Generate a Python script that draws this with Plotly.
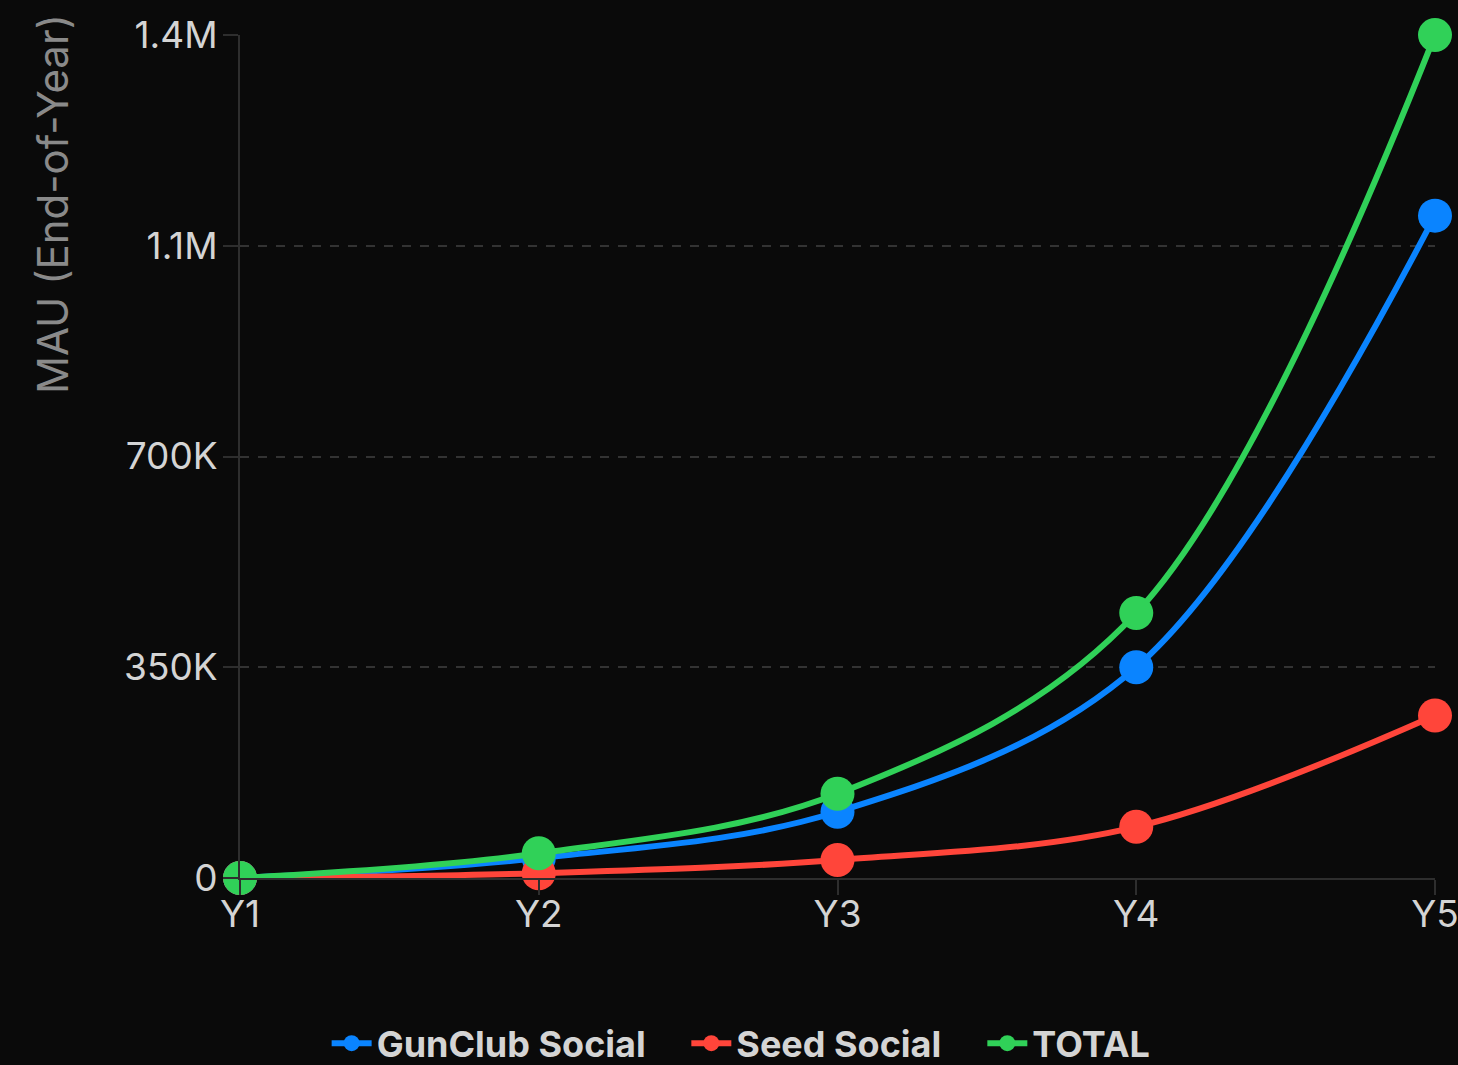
import plotly.graph_objects as go

years = ["Y1", "Y2", "Y3", "Y4", "Y5"]
gunclub = [0, 33000, 110000, 350000, 1100000]
seed = [0, 8000, 30000, 85000, 270000]
total = [0, 41000, 140000, 440000, 1400000]

tick_vals = [0, 350000, 700000, 1050000, 1400000]
tick_text = ["0", "350K", "700K", "1.1M", "1.4M"]

BG = "#0a0a0a"
series = [
    ("GunClub Social", gunclub, "#0a84ff", "legend", 0.0725),
    ("Seed Social", seed, "#ff453a", "legend2", 0.3735),
    ("TOTAL", total, "#30d158", "legend3", 0.6212),
]

fig = go.Figure()
legend_style = dict(orientation="h", xanchor="left", y=-0.196, yanchor="middle",
                    font=dict(size=36, color="#d4d4d4", family="Inter", weight="bold"),
                    bgcolor="rgba(0,0,0,0)", itemwidth=40)
layout_legends = {}
for name, vals, color, leg, lx in series:
    fig.add_trace(go.Scatter(
        x=years, y=vals, name=name, mode="lines+markers",
        line=dict(color=color, width=6, shape="spline", smoothing=1),
        marker=dict(color=color, size=34),
        cliponaxis=False, legend=leg,
    ))
    layout_legends[leg] = dict(legend_style, x=lx)

fig.update_layout(
    width=1458, height=1065,
    paper_bgcolor=BG, plot_bgcolor=BG,
    font=dict(family="Inter", color="#d4d4d4", size=36),
    margin=dict(l=240, r=23, t=35, b=187, autoexpand=False),
    showlegend=True,
    **layout_legends,
)
fig.add_annotation(
    text="MAU (End-of-Year)", textangle=-90, xref="paper", yref="paper",
    x=-0.157, y=0.80, xanchor="center", yanchor="middle", showarrow=False,
    font=dict(size=42, color="#8a8a8a", family="Inter"),
)
fig.update_xaxes(
    showgrid=False, showline=True, linecolor="#2e2e2e", linewidth=2,
    ticks="outside", ticklen=15, tickcolor="#2e2e2e", tickwidth=2,
    tickfont=dict(size=37, color="#d4d4d4"), range=[0, 4], zeroline=False,
    ticklabelstandoff=-12,
)
fig.update_yaxes(
    range=[0, 1400000], tickvals=tick_vals, ticktext=tick_text,
    showgrid=True, gridcolor="#333333", griddash="dash", gridwidth=2,
    showline=True, linecolor="#2e2e2e", linewidth=2,
    ticks="outside", ticklen=15, tickcolor="#2e2e2e", tickwidth=2,
    tickfont=dict(size=37, color="#d4d4d4"), zeroline=False,
    ticklabelstandoff=-2,
)

fig.write_html("out.html", config={"displayModeBar": False},
               post_script="document.body.style.margin='0';document.body.style.background='#0a0a0a';")
